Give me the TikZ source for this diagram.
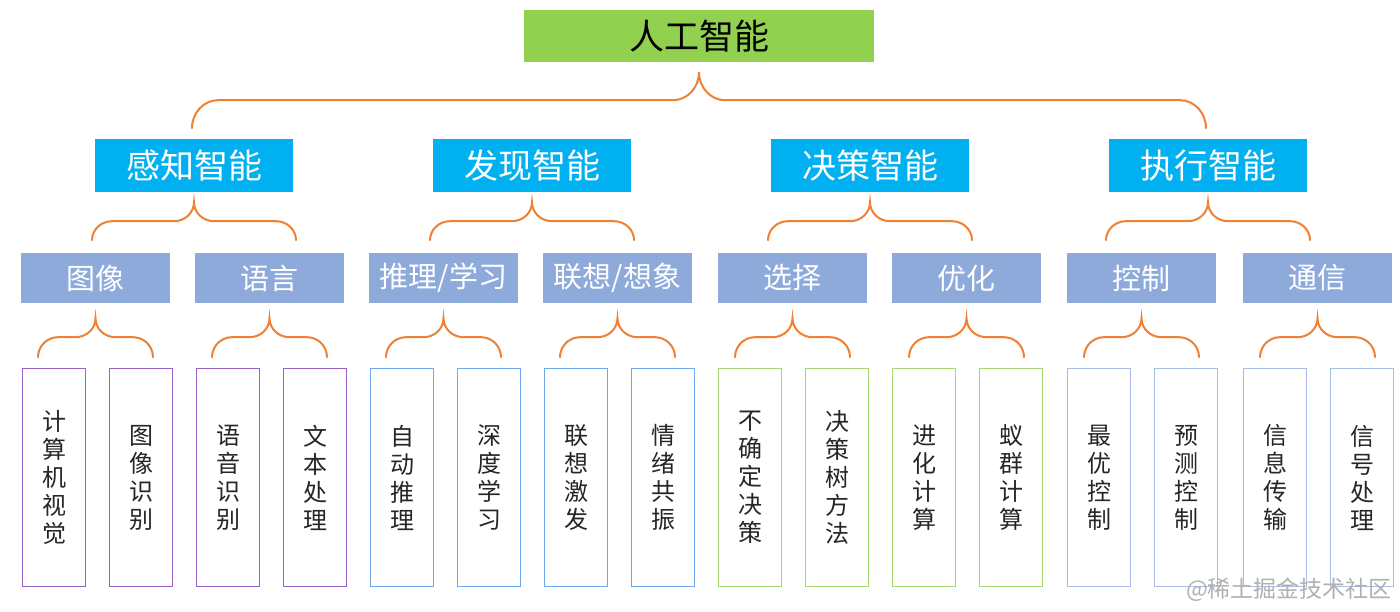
\documentclass[tikz,border=0pt]{standalone}
\usepackage{fontspec}
\setmainfont{Noto Sans CJK SC}
\usepackage{tikz}
\usetikzlibrary{calc}
\definecolor{rootgreen}{HTML}{92D050}
\definecolor{kindcyan}{HTML}{00B0F0}
\definecolor{subblue}{HTML}{8EAADB}
\definecolor{braceorange}{HTML}{F08133}
\definecolor{leafpurple}{HTML}{9A62C9}
\definecolor{leafblue}{HTML}{6EA8EE}
\definecolor{leafgreen}{HTML}{A6D873}
\definecolor{leafsteel}{HTML}{A9BEE6}
\definecolor{markgray}{HTML}{B0B0B0}

% parent node, half width, corner, tip drop, line drop, end drop
\newcommand{\treebrace}[6]{%
  \begin{scope}[shift={(#1.south)}]
    \pgfmathsetmacro\kx{0.552*#3}
    \pgfmathsetmacro\ky{0.552*(#6-#5)}
    \pgfmathsetmacro\ty{0.552*(#5-#4)}
    \draw[brace] (-#2,#6) .. controls (-#2,#6-\ky) and (-#2+#3-\kx,#5) .. (-#2+#3,#5)
      -- (-#3,#5) .. controls (-#3+\kx,#5) and (0,#4+\ty) .. (0,#4)
      .. controls (0,#4+\ty) and (#3-\kx,#5) .. (#3,#5)
      -- (#2-#3,#5) .. controls (#2-#3+\kx,#5) and (#2,#6-\ky) .. (#2,#6);
  \end{scope}}

\begin{document}
\begin{tikzpicture}[x=1pt, y=-1pt,
    rootbox/.style={fill=rootgreen, minimum width=350pt, minimum height=52pt, inner sep=0pt,
      font=\fontsize{35}{40}\selectfont},
    kindbox/.style={fill=kindcyan, text=white, minimum width=198pt, minimum height=53pt, inner sep=0pt,
      font=\fontsize{34}{40}\selectfont},
    subbox/.style={fill=subblue, text=white, minimum width=149pt, minimum height=50pt, inner sep=0pt,
      font=\fontsize{29}{34}\selectfont},
    leafbox/.style={draw=#1, line width=1.6pt, minimum width=63pt, minimum height=218pt, inner sep=0pt,
      align=center, text=black!85, font=\fontsize{24}{28}\selectfont},
    brace/.style={draw=braceorange, line width=2pt, line cap=round}]
    \useasboundingbox[fill=white] (0,0) rectangle (1400,612);

    \node[rootbox] (root) at (699,36) {人工智能};
    \treebrace{root}{507}{26}{10}{38}{66}

    \foreach \i/\xc/\lab in {1/194/感知智能, 2/532/发现智能, 3/870/决策智能, 4/1208/执行智能} {
      \node[kindbox] (k\i) at (\xc,165.5) {\lab};
      \treebrace{k\i}{102}{20}{10}{29}{48}
    }

    \foreach \i/\xl/\lab in {1/21/图像, 2/195/语言, 3/369/{推理/学习}, 4/543/{联想/想象},
      5/718/选择, 6/892/优化, 7/1067/控制, 8/1243/通信} {
      \node[subbox] (s\i) at (\xl+74.5,278) {\lab};
      \treebrace{s\i}{57.5}{20}{15}{34}{54}
    }

    \foreach \i/\xc/\clr/\lab in {%
      1/54/leafpurple/{计\\算\\机\\视\\觉}, 2/141/leafpurple/{图\\像\\识\\别},
      3/228/leafpurple/{语\\音\\识\\别}, 4/315/leafpurple/{文\\本\\处\\理},
      5/402/leafblue/{自\\动\\推\\理}, 6/489/leafblue/{深\\度\\学\\习},
      7/576/leafblue/{联\\想\\激\\发}, 8/663/leafblue/{情\\绪\\共\\振},
      9/750/leafgreen/{不\\确\\定\\决\\策}, 10/837/leafgreen/{决\\策\\树\\方\\法},
      11/924/leafgreen/{进\\化\\计\\算}, 12/1011/leafgreen/{蚁\\群\\计\\算},
      13/1099/leafsteel/{最\\优\\控\\制}, 14/1186/leafsteel/{预\\测\\控\\制},
      15/1275/leafsteel/{信\\息\\传\\输}, 16/1362/leafsteel/{信\\号\\处\\理}%
    } {
      \node[leafbox=\clr] (l\i) at (\xc,477.5) {\lab};
    }

    \node[text=markgray, font=\fontsize{23}{26}\selectfont] (mark) at (1289,590) {@稀土掘金技术社区};
  \end{tikzpicture}
\end{document}
